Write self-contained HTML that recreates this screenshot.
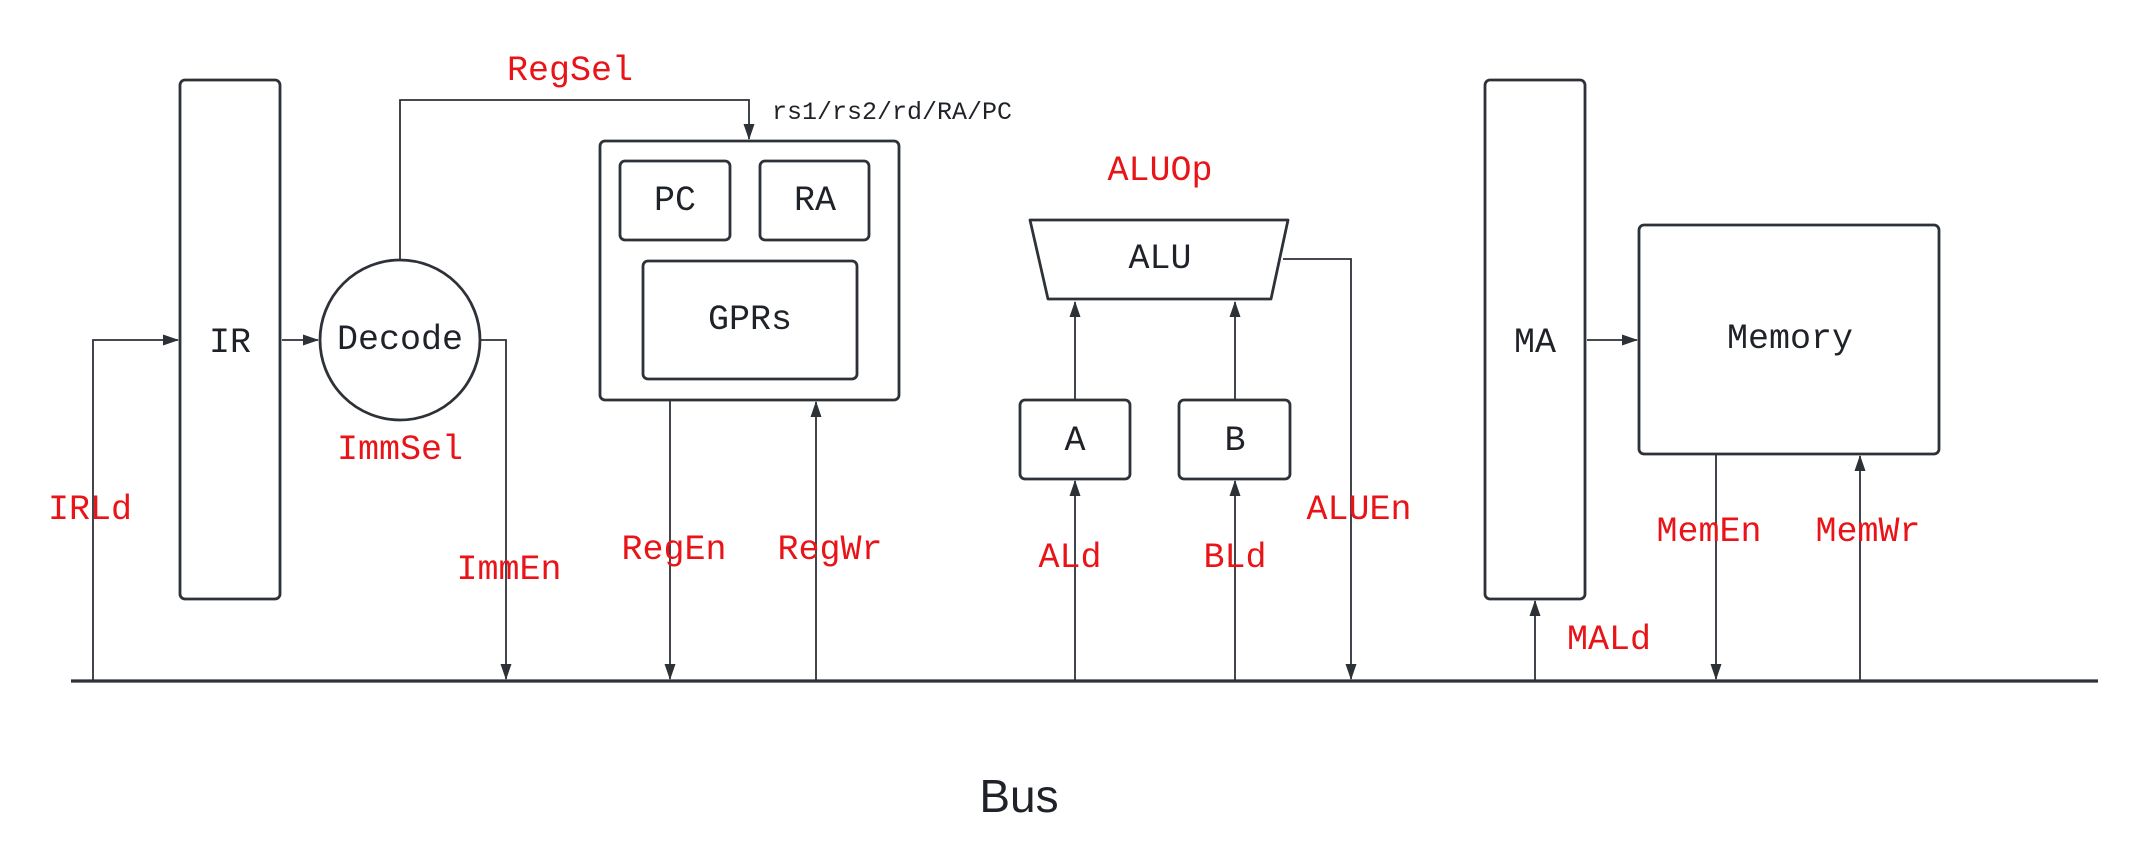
<!DOCTYPE html>
<html><head><meta charset="utf-8"><style>
html,body{margin:0;padding:0;background:#fff;}
svg{display:block;}
text{font-family:"Liberation Mono",monospace;}
.r{fill:#e81418;font-size:35px;text-anchor:middle;dominant-baseline:central;}
.k{fill:#1f2329;font-size:35px;text-anchor:middle;dominant-baseline:central;}
</style></head><body>
<svg width="2140" height="864" viewBox="0 0 2140 864" xmlns="http://www.w3.org/2000/svg">
<defs>
<marker id="a" markerWidth="16" markerHeight="11" refX="15" refY="5.5" orient="auto" markerUnits="userSpaceOnUse" viewBox="0 0 16 11">
<path d="M0,0 L16,5.5 L0,11 z" fill="#2d3138"/>
</marker>
</defs>
<g fill="none" stroke="#2d3138" stroke-width="2.8">
<rect x="180" y="80" width="100" height="519" rx="5"/>
<circle cx="400" cy="340" r="80"/>
<rect x="600" y="141" width="299" height="259" rx="5"/>
<rect x="620" y="161" width="110" height="79" rx="5"/>
<rect x="760" y="161" width="109" height="79" rx="5"/>
<rect x="643" y="261" width="214" height="118" rx="5"/>
<path d="M1030,220 L1288,220 L1271,299 L1048,299 Z" stroke-linejoin="round"/>
<rect x="1020" y="400" width="110" height="79" rx="5"/>
<rect x="1179" y="400" width="111" height="79" rx="5"/>
<rect x="1485" y="80" width="100" height="519" rx="5"/>
<rect x="1639" y="225" width="300" height="229" rx="5"/>
<line x1="71" y1="681" x2="2098" y2="681" stroke-width="3.2"/>
</g>
<g fill="none" stroke="#2d3138" stroke-width="1.8">
<path d="M93,681 L93,340 L178,340" marker-end="url(#a)"/>
<path d="M282,340 L318,340" marker-end="url(#a)"/>
<path d="M400,260 L400,100 L749,100 L749,139" marker-end="url(#a)"/>
<path d="M481,340 L506,340 L506,679" marker-end="url(#a)"/>
<path d="M670,401 L670,679" marker-end="url(#a)"/>
<path d="M816,681 L816,402" marker-end="url(#a)"/>
<path d="M1075,400 L1075,302" marker-end="url(#a)"/>
<path d="M1235,400 L1235,302" marker-end="url(#a)"/>
<path d="M1075,681 L1075,481" marker-end="url(#a)"/>
<path d="M1235,681 L1235,481" marker-end="url(#a)"/>
<path d="M1283,259 L1351,259 L1351,679" marker-end="url(#a)"/>
<path d="M1535,681 L1535,601" marker-end="url(#a)"/>
<path d="M1587,340 L1637,340" marker-end="url(#a)"/>
<path d="M1716,455 L1716,679" marker-end="url(#a)"/>
<path d="M1860,681 L1860,456" marker-end="url(#a)"/>
</g>
<text class="k" x="230" y="343">IR</text>
<text class="k" x="400" y="340">Decode</text>
<text class="k" x="675" y="201">PC</text>
<text class="k" x="815" y="201">RA</text>
<text class="k" x="750" y="320">GPRs</text>
<text class="k" x="1160" y="259">ALU</text>
<text class="k" x="1075" y="441">A</text>
<text class="k" x="1235" y="441">B</text>
<text class="k" x="1535" y="343">MA</text>
<text class="k" x="1790" y="339">Memory</text>
<text x="772" y="119" style="font-size:25px;fill:#1f2329">rs1/rs2/rd/RA/PC</text>
<text x="1019" y="796" style="font-family:'Liberation Sans',sans-serif;font-size:46px;fill:#1f2329;text-anchor:middle;dominant-baseline:central">Bus</text>
<text class="r" x="570" y="71">RegSel</text>
<text class="r" x="1160" y="171">ALUOp</text>
<text class="r" x="90" y="510">IRLd</text>
<text class="r" x="400" y="450">ImmSel</text>
<text class="r" x="509" y="570">ImmEn</text>
<text class="r" x="674" y="550">RegEn</text>
<text class="r" x="830" y="550">RegWr</text>
<text class="r" x="1070" y="558">ALd</text>
<text class="r" x="1235" y="558">BLd</text>
<text class="r" x="1359" y="510">ALUEn</text>
<text class="r" x="1609" y="640">MALd</text>
<text class="r" x="1709" y="532">MemEn</text>
<text class="r" x="1868" y="532">MemWr</text>
</svg>
</body></html>
